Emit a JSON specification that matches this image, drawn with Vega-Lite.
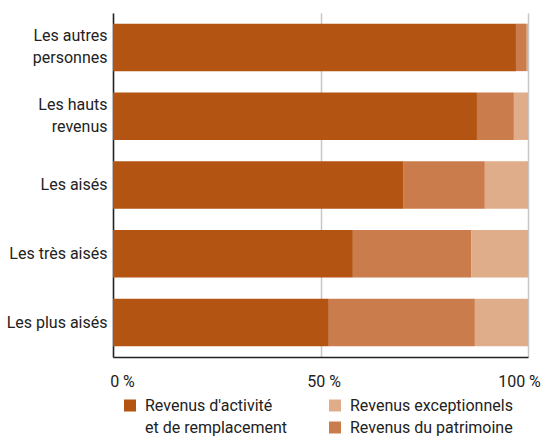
{
  "$schema": "https://vega.github.io/schema/vega-lite/v6.json",
  "width": 415,
  "height": 344,
  "autosize": {"type": "none"},
  "padding": {"left": 113, "top": 13, "right": 16, "bottom": 80},
  "background": "white",
  "config": {
    "view": {"stroke": null},
    "font": "Roboto",
    "axis": {"labelFont": "Roboto", "labelColor": "#222"},
    "legend": {"labelFont": "Roboto"}
  },
  "data": {
    "values": [
      {"groupe": "Les autres personnes", "serie": "Revenus d'activité et de remplacement", "rang": 1, "part": 97.1},
      {"groupe": "Les autres personnes", "serie": "Revenus du patrimoine", "rang": 2, "part": 2.6},
      {"groupe": "Les autres personnes", "serie": "Revenus exceptionnels", "rang": 3, "part": 0.3},
      {"groupe": "Les hauts revenus", "serie": "Revenus d'activité et de remplacement", "rang": 1, "part": 87.7},
      {"groupe": "Les hauts revenus", "serie": "Revenus du patrimoine", "rang": 2, "part": 8.9},
      {"groupe": "Les hauts revenus", "serie": "Revenus exceptionnels", "rang": 3, "part": 3.4},
      {"groupe": "Les aisés", "serie": "Revenus d'activité et de remplacement", "rang": 1, "part": 69.9},
      {"groupe": "Les aisés", "serie": "Revenus du patrimoine", "rang": 2, "part": 19.7},
      {"groupe": "Les aisés", "serie": "Revenus exceptionnels", "rang": 3, "part": 10.4},
      {"groupe": "Les très aisés", "serie": "Revenus d'activité et de remplacement", "rang": 1, "part": 57.8},
      {"groupe": "Les très aisés", "serie": "Revenus du patrimoine", "rang": 2, "part": 28.5},
      {"groupe": "Les très aisés", "serie": "Revenus exceptionnels", "rang": 3, "part": 13.7},
      {"groupe": "Les plus aisés", "serie": "Revenus d'activité et de remplacement", "rang": 1, "part": 52.0},
      {"groupe": "Les plus aisés", "serie": "Revenus du patrimoine", "rang": 2, "part": 35.2},
      {"groupe": "Les plus aisés", "serie": "Revenus exceptionnels", "rang": 3, "part": 12.8}
    ]
  },
  "mark": {"type": "bar"},
  "encoding": {
    "y": {
      "field": "groupe",
      "type": "nominal",
      "sort": null,
      "title": null,
      "scale": {"paddingInner": 0.31, "paddingOuter": 0.155},
      "axis": {
        "domainColor": "#222",
        "domainWidth": 1.5,
        "ticks": false,
        "labelPadding": 6,
        "labelFontSize": 16,
        "labelLineHeight": 22,
        "labelLimit": 200,
        "labelOffset": {"condition": {"test": "datum.value == 'Les autres personnes' || datum.value == 'Les hauts revenus'", "value": -11}, "value": 0},
        "labelExpr": "datum.value == 'Les autres personnes' ? ['Les autres', 'personnes'] : datum.value == 'Les hauts revenus' ? ['Les hauts', 'revenus'] : datum.value"
      }
    },
    "x": {
      "field": "part",
      "type": "quantitative",
      "stack": "zero",
      "title": null,
      "scale": {"domain": [0, 100], "nice": false},
      "axis": {
        "values": [0, 50, 100],
        "domainColor": "#222",
        "domainWidth": 1.5,
        "ticks": false,
        "grid": true,
        "gridColor": "#c8c8c8",
        "gridWidth": 1.5,
        "labelPadding": 16,
        "labelFontSize": 16,
        "labelFlush": false,
        "labelAlign": "center",
        "labelOffset": {"condition": [{"test": "datum.value == 0", "value": 9}, {"test": "datum.value == 100", "value": -9}], "value": 3},
        "labelExpr": "datum.value + ' %'"
      }
    },
    "order": {"field": "rang", "type": "quantitative"},
    "color": {
      "field": "serie",
      "type": "nominal",
      "scale": {
        "domain": ["Revenus d'activité et de remplacement", "Revenus exceptionnels", "et de remplacement", "Revenus du patrimoine"],
        "range": ["#b35412", "#e0ad8a", "rgba(255,255,255,0)", "#cb7c4c"]
      },
      "legend": {
        "title": null,
        "orient": "none",
        "legendX": 9,
        "legendY": 384,
        "direction": "horizontal",
        "columns": 2,
        "columnPadding": 0,
        "rowPadding": 5,
        "symbolType": "square",
        "symbolSize": 144,
        "symbolStrokeWidth": 0,
        "labelFontSize": 16,
        "labelColor": "#222",
        "labelOffset": 7,
        "labelLimit": 300,
        "clipHeight": 17,
        "labelExpr": "datum.value == \"Revenus d'activité et de remplacement\" ? \"Revenus d'activité\" : datum.value",
        "encode": {
          "entries": {"update": {"width": {"value": 205}}}
        }
      }
    }
  }
}
